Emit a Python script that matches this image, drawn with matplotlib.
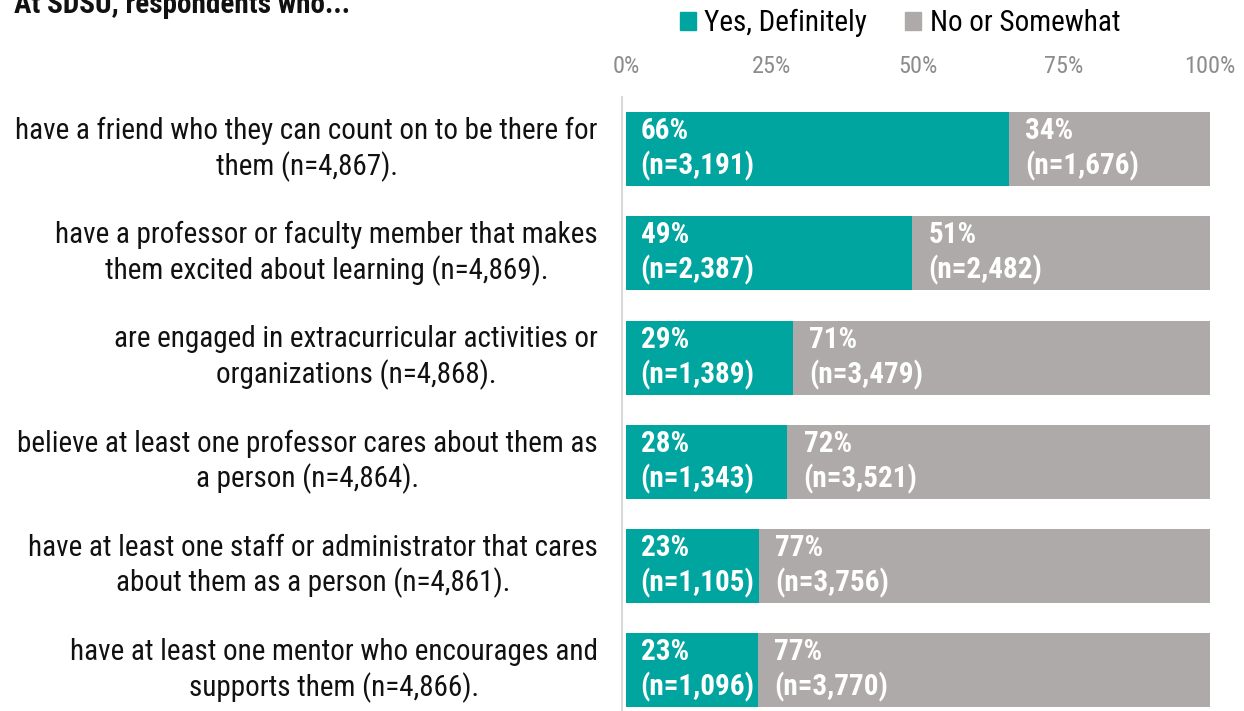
import matplotlib
matplotlib.use("Agg")
import matplotlib.pyplot as plt
from matplotlib import font_manager
from matplotlib.patches import Rectangle

# pick a condensed face if there is one, else plain Roboto
names = set(f.name for f in font_manager.fontManager.ttflist)
fam = "Roboto Condensed" if "Roboto Condensed" in names else "Roboto"
plt.rcParams["font.family"] = [fam, "DejaVu Sans"]

categories = [
    "have a friend who they can count on to be there for\nthem (n=4,867).",
    "have a professor or faculty member that makes\nthem excited about learning (n=4,869).",
    "are engaged in extracurricular activities or\norganizations (n=4,868).",
    "believe at least one professor cares about them as\na person (n=4,864).",
    "have at least one staff or administrator that cares\nabout them as a person (n=4,861).",
    "have at least one mentor who encourages and\nsupports them (n=4,866).",
]
yes_pct = [66, 49, 29, 28, 23, 23]
no_pct = [34, 51, 71, 72, 77, 77]
yes_n = [3191, 2387, 1389, 1343, 1105, 1096]
no_n = [1676, 2482, 3479, 3521, 3756, 3770]
series_names = ["Yes, Definitely", "No or Somewhat"]
ticks = [0, 25, 50, 75, 100]

teal = "#00A5A0"
grey = "#AEAAA9"

yes_w = [100 * y / (y + n) for y, n in zip(yes_n, no_n)]
no_w = [100 * n / (y + n) for y, n in zip(yes_n, no_n)]

fig = plt.figure(figsize=(12.44, 7.11), dpi=100)
ax = fig.add_axes([626 / 1244, 0, 584 / 1244, 614 / 711])

pos = list(range(len(categories)))
ax.barh(pos, yes_w, height=0.71, color=teal)
ax.barh(pos, no_w, left=yes_w, height=0.71, color=grey)
ax.set_xlim(0, 100)
ax.set_ylim(5.39, -0.5)

for i in pos:
    ax.text(2.5, i, "%d%%\n(n=%s)" % (yes_pct[i], format(yes_n[i], ",")),
            color="white", fontsize=21, fontweight="bold", va="center",
            ha="left", linespacing=1.25)
    ax.text(yes_w[i] + 2.8, i, "%d%%\n(n=%s)" % (no_pct[i], format(no_n[i], ",")),
            color="white", fontsize=21, fontweight="bold", va="center",
            ha="left", linespacing=1.25)
    ax.text(-0.048, i, categories[i], transform=ax.get_yaxis_transform(),
            ha="right", va="center", multialignment="center",
            fontsize=21, color="#111111", linespacing=1.25)

ax.xaxis.tick_top()
ax.set_xticks(ticks)
ax.set_xticklabels(["%d%%" % t for t in ticks], color="#8C8C8C", fontsize=17.5)
ax.tick_params(axis="x", length=0, pad=14)
ax.set_yticks([])
for s in ["top", "right", "bottom"]:
    ax.spines[s].set_visible(False)
ax.spines["left"].set_color("#D9D9D9")
ax.spines["left"].set_linewidth(1.5)
ax.spines["left"].set_position(("data", -0.7))

# legend
handles = [Rectangle((0, 0), 1, 1, color=teal), Rectangle((0, 0), 1, 1, color=grey)]
fig.legend(handles, series_names, loc="center left", bbox_to_anchor=(668 / 1244, 1 - 23 / 711),
           ncol=2, frameon=False, fontsize=21, handlelength=0.55, handleheight=0.55,
           handletextpad=0.3, columnspacing=1.3, borderaxespad=0)

fig.text(14 / 1244, 1 - 13 / 711, "At SDSU, respondents who...", fontsize=21,
         fontweight="bold", ha="left", va="baseline", color="#111111")

fig.savefig("out.png", dpi=100)
